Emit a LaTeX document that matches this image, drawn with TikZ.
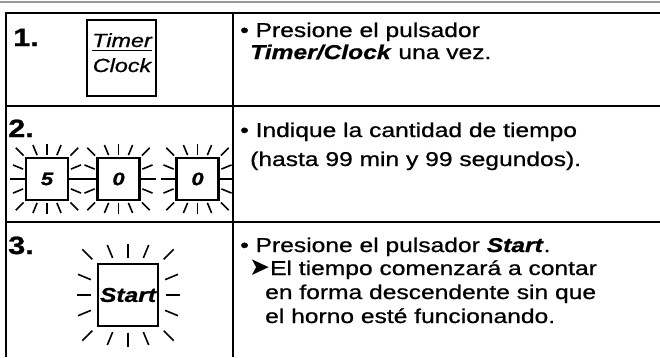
\documentclass[tikz,border=0pt]{standalone}
\usepackage{fontspec}
\setmainfont{Liberation Sans}[FakeStretch=1.23,UprightFeatures={FakeBold=0.8},ItalicFeatures={FakeBold=0.8},BoldFeatures={FakeBold=1},BoldItalicFeatures={FakeBold=1}]
\newfontfamily\symfont{DejaVu Sans}
\usepackage{tikz}
\usetikzlibrary{calc}
\newcommand{\glow}[6]{%
  \foreach \ang in {0,22.5,...,337.5}{
    \pgfmathsetmacro{\side}{abs(sin(\ang))<0.01}
    \pgfmathsetmacro{\rin}{#2/max(abs(cos(\ang)),abs(sin(\ang)))+(\side>0.5 ? #5 : #3)}
    \pgfmathsetmacro{\rout}{\rin+(\side>0.5 ? #6 : #4)}
    \draw[ray] ($(#1)+(\ang:\rin)$) -- ($(#1)+(\ang:\rout)$);
  }}
\tikzset{
  rule/.style={line width=2pt},
  ray/.style={line width=1.6pt},
  numlabel/.style={anchor=base west,inner sep=0pt,font=\fontsize{25}{25}\selectfont\bfseries},
  txt/.style={anchor=base west,inner sep=0pt,font=\fontsize{20}{24}\selectfont},
  digitkey/.style={draw,line width=2.3pt,minimum size=42pt,inner sep=0pt,
    font=\fontsize{18}{18}\selectfont\bfseries\itshape},
}

\begin{document}
\begin{tikzpicture}[x=1pt,y=-1pt]
  \useasboundingbox (0,0) rectangle (660,357);
  \draw[gray!80,line width=2pt] (0,2) -- (660,2);
  \draw[rule] (6,13) -- (660,13);
  \draw[rule] (6,106) -- (660,106);
  \draw[rule] (6,222) -- (660,222);
  \draw[rule] (6,12) -- (6,357);
  \draw[rule] (233,12) -- (233,357);

  \node[numlabel] (n1) at (13,46) {1.};
  \node[numlabel] (n2) at (8,137) {2.};
  \node[numlabel] (n3) at (8,254) {3.};

  \node[draw,line width=1.5pt,minimum width=69pt,minimum height=76pt] (timerkey) at (121.5,58) {};
  \node[anchor=base,inner sep=0pt,font=\fontsize{19}{19}\selectfont\itshape] (timer) at (122,47) {Timer};
  \node[anchor=base,inner sep=0pt,font=\fontsize{19}{19}\selectfont\itshape] (clock) at (122,72) {Clock};
  \draw[line width=1.3pt] ([yshift=-3.5pt]timer.base west) -- ([yshift=-3.5pt]timer.base east);

  \node[digitkey] (d1) at (47,179) {5};
  \node[digitkey] (d2) at (118.5,179) {0};
  \node[digitkey] (d3) at (197.5,179) {0};
  \glow{d1}{22}{2}{11}{0}{15}
  \glow{d2}{22}{2}{11}{0}{15}
  \glow{d3}{22}{2}{11}{0}{14.5}

  \node[draw,line width=1.6pt,minimum width=60pt,minimum height=62pt,inner sep=0pt,
    font=\fontsize{20}{20}\selectfont\bfseries\itshape] (startkey) at (128,295) {Start};
  \glow{startkey}{31.5}{6}{14}{6}{14}

  \node[txt] (t1a) at (240,37) {• Presione el pulsador};
  \node[txt] (t1b) at (250,59) {\textbf{\textit{Timer/Clock}} una vez.};
  \node[txt] (t2a) at (240,137) {• Indique la cantidad de tiempo};
  \node[txt] (t2b) at (250,166) {(hasta 99 min y 99 segundos).};
  \node[txt] (t3a) at (240,252) {• Presione el pulsador \textbf{\textit{Start}}.};
  \node[txt] (t3b) at (249,275) {{\symfont\fontsize{25}{24}\selectfont ➤}El tiempo comenzará a contar};
  \node[txt] (t3c) at (265,299) {en forma descendente sin que};
  \node[txt] (t3d) at (265,323) {el horno esté funcionando.};
\end{tikzpicture}
\end{document}
